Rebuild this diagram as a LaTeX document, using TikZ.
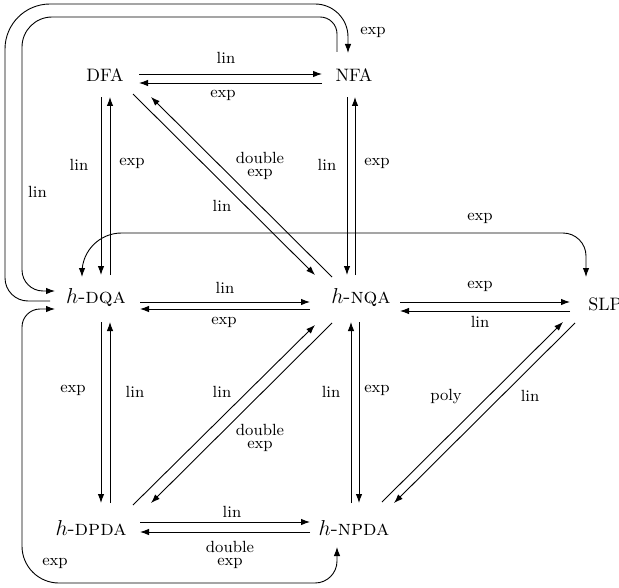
\documentclass[tikz,border=0pt]{standalone}
\usetikzlibrary{arrows.meta,calc}
\begin{document}
\begin{tikzpicture}[x=0.5556pt,y=-0.5556pt,
  arr/.style={-{Latex[length=5pt,width=3.6pt]},line width=0.5pt},
  darr/.style={{Latex[length=5pt,width=3.6pt]}-{Latex[length=5pt,width=3.6pt]},line width=0.5pt},
  lbl/.style={font=\fontsize{9}{7.4}\selectfont,inner sep=0pt,align=center},
  st/.style={inner sep=0pt},
  hst/.style={inner sep=0pt,font=\large}]
\useasboundingbox (0,0) rectangle (619,587);
% states
\node[st]  (dfa)  at (105,75)  {DFA};
\node[st]  (nfa)  at (354,75)  {NFA};
\node[hst] (dqa)  at (96,298)  {$h$-\textsc{dqa}};
\node[hst] (nqa)  at (361,298) {$h$-\textsc{nqa}};
\node[st]  (slp)  at (605,304) {SLP};
\node[hst] (dpda) at (91,528)  {$h$-\textsc{dpda}};
\node[hst] (npda) at (354,528) {$h$-\textsc{npda}};
% horizontal pairs
\draw[arr] ($(dfa)+(34,-1)$) -- node[lbl,shift={(-4.5,-16)}] (l1) {lin} ($(nfa)+(-32,-1)$);
\draw[arr] ($(nfa)+(-32,8)$) -- node[lbl,shift={(-7.5,12)}] (l2) {exp} ($(dfa)+(34,8)$);
\draw[arr] ($(dqa)+(44,4)$) -- node[lbl,shift={(0,-14)}] (l3) {lin} ($(nqa)+(-51,4)$);
\draw[arr] ($(nqa)+(-51,11)$) -- node[lbl,shift={(-1,13)}] (l4) {exp} ($(dqa)+(44,11)$);
\draw[arr] ($(nqa)+(39,4)$) -- node[lbl,shift={(-5,-16)}] (l5) {exp} ($(slp)+(-35,-2)$);
\draw[arr] ($(slp)+(-35,7)$) -- node[lbl,shift={(-5,11)}] (l6) {lin} ($(nqa)+(39,13)$);
\draw[arr] ($(dpda)+(49,-6)$) -- node[lbl,shift={(7,-10)}] (l7) {lin} ($(npda)+(-44,-6)$);
\draw[arr] ($(npda)+(-44,4)$) -- node[lbl,shift={(5,23)}] (l8) {double\\exp} ($(dpda)+(49,4)$);
% vertical pairs
\draw[arr] ($(dfa)+(-4,22)$) -- node[lbl,shift={(-22,-21)}] (l9) {lin} ($(dqa)+(5,-23)$);
\draw[arr] ($(dqa)+(14,-23)$) -- node[lbl,shift={(22,-23)}] (l10) {exp} ($(dfa)+(5,22)$);
\draw[arr] ($(nfa)+(-7,22)$) -- node[lbl,shift={(-20,-21)}] (l11) {lin} ($(nqa)+(-14,-23)$);
\draw[arr] ($(nqa)+(-6,-23)$) -- node[lbl,shift={(22,-23)}] (l12) {exp} ($(nfa)+(1,22)$);
\draw[arr] ($(dqa)+(5,24)$) -- node[lbl,shift={(-28,-22.5)}] (l13) {exp} ($(dpda)+(10,-25)$);
\draw[arr] ($(dpda)+(19,-25)$) -- node[lbl,shift={(25,-20.5)}] (l14) {lin} ($(dqa)+(14,24)$);
\draw[arr] ($(npda)+(-3,-25)$) -- node[lbl,shift={(-20,-20.5)}] (l15) {lin} ($(nqa)+(-10,24)$);
\draw[arr] ($(nqa)+(-2,24)$) -- node[lbl,shift={(18,-22.5)}] (l16) {exp} ($(npda)+(5,-25)$);
% diagonal pairs
\draw[arr] ($(dfa)+(28,19)$) -- node[lbl,shift={(-2,21.5)}] (l17) {lin} ($(nqa)+(-46,-23)$);
\draw[arr] ($(nqa)+(-29,-21)$) -- node[lbl,shift={(18.5,-21)}] (l18) {double\\exp} ($(dfa)+(46,22)$);
\draw[arr] ($(dpda)+(42,-23)$) -- node[lbl,shift={(-2,-23)}] (l19) {lin} ($(nqa)+(-46,27)$);
\draw[arr] ($(nqa)+(-29,25)$) -- node[lbl,shift={(18.5,25)}] (l20) {double\\exp} ($(dpda)+(60,-25)$);
\draw[arr] ($(npda)+(28,-26)$) -- node[lbl,shift={(-26.5,-15)}] (l21) {poly} ($(slp)+(-42,18)$);
\draw[arr] ($(slp)+(-30,19)$) -- node[lbl,shift={(45.5,-17)}] (l22) {lin} ($(npda)+(40,-25)$);
% loops
\coordinate (a1) at (5,301);
\coordinate (a2) at (5,4);
\coordinate (a3) at (348,4);
\draw[arr] ($(dqa)+(-46,3)$) [rounded corners=12.8pt] -- (a1) [rounded corners=25pt] -- (a2) [rounded corners=18.3pt] -- (a3) -- node[lbl,shift={(25,3.5)}] (l23) {exp} ($(nfa)+(-6,-22)$);
\coordinate (b1) at (337,17);
\coordinate (b2) at (22,17);
\coordinate (b3) at (22,291);
\draw[arr] ($(nfa)+(-17,-23)$) [rounded corners=9.4pt] -- (b1) [rounded corners=16.7pt] -- (b2) [rounded corners=11.7pt] -- node[lbl,shift={(15.5,38)}] (l24) {lin} (b3) -- ($(dqa)+(-41,-7)$);
\coordinate (c1) at (82,233);
\coordinate (c2) at (586,233);
\draw[darr] ($(dqa)+(-14,-21)$) [rounded corners=22pt] -- (c1) [rounded corners=12.8pt] -- node[lbl,shift={(146,-15)}] (l25) {exp} (c2) -- ($(slp)+(-19,-27)$);
\coordinate (d1) at (22,309);
\coordinate (d2) at (22,583);
\coordinate (d3) at (337,583);
\draw[darr] ($(dqa)+(-41,11)$) [rounded corners=10pt] -- (d1) [rounded corners=20.5pt] -- node[lbl,shift={(33,117)}] (l26) {exp} (d2) [rounded corners=12.2pt] -- (d3) -- ($(npda)+(-17,19)$);
\end{tikzpicture}
\end{document}
